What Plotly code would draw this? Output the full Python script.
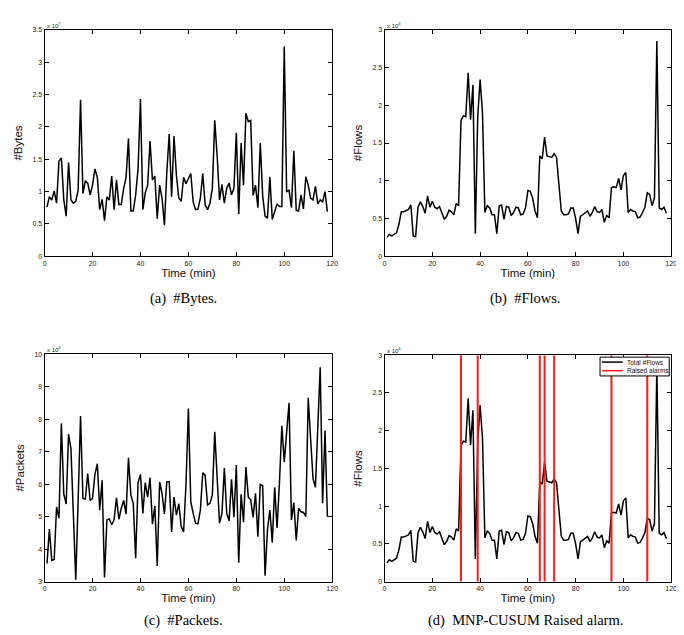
import plotly.graph_objects as go

minutes = list(range(1, 119))

bytes_e7 = [0.76, 0.92, 0.87, 1.01, 0.82, 1.47, 1.52, 0.88, 0.62, 1.45,
            0.87, 0.82, 0.85, 1.02, 2.42, 0.97, 1.16, 1.13, 0.95, 1.10,
            1.35, 1.22, 0.72, 0.88, 0.55, 0.92, 0.87, 1.24, 0.72, 1.18,
            0.80, 0.80, 1.05, 1.22, 1.82, 0.70, 0.70, 0.95, 1.35, 2.43,
            0.72, 0.98, 1.10, 1.78, 1.18, 1.24, 0.58, 1.10, 0.90, 0.48,
            1.30, 1.89, 0.92, 1.86, 1.25, 0.90, 0.85, 1.22, 1.12, 1.20,
            1.28, 0.84, 0.72, 0.73, 0.90, 1.28, 0.79, 0.72, 0.82, 1.05,
            2.10, 1.55, 0.87, 1.11, 0.82, 1.05, 1.13, 0.95, 1.05, 1.91,
            0.65, 1.75, 1.10, 2.21, 2.08, 2.10, 0.94, 1.10, 0.75, 1.75,
            0.93, 0.62, 0.59, 1.23, 0.57, 0.69, 0.81, 0.77, 0.77, 3.24,
            1.00, 1.02, 0.75, 1.63, 0.71, 0.70, 0.95, 0.73, 1.23, 1.10,
            0.90, 0.87, 1.08, 0.81, 0.87, 0.84, 1.00, 0.69]

flows_e4 = [0.25, 0.29, 0.27, 0.29, 0.31, 0.42, 0.59, 0.59, 0.60, 0.62,
            0.68, 0.27, 0.26, 0.65, 0.72, 0.66, 0.57, 0.80, 0.65, 0.73,
            0.65, 0.63, 0.66, 0.57, 0.49, 0.53, 0.61, 0.59, 0.55, 0.70,
            0.67, 1.80, 1.86, 1.85, 2.43, 1.81, 2.27, 0.30, 1.85, 2.34,
            1.90, 0.58, 0.67, 0.64, 0.55, 0.55, 0.30, 0.67, 0.68, 0.49,
            0.66, 0.65, 0.54, 0.58, 0.65, 0.64, 0.55, 0.56, 0.64, 0.87,
            0.86, 0.77, 0.60, 0.51, 1.33, 1.29, 1.58, 1.33, 1.32, 1.31,
            1.36, 1.31, 0.95, 0.60, 0.55, 0.55, 0.56, 0.64, 0.64, 0.50,
            0.30, 0.53, 0.55, 0.58, 0.60, 0.53, 0.58, 0.66, 0.59, 0.58,
            0.62, 0.45, 0.54, 0.51, 0.91, 0.92, 0.91, 1.03, 0.88, 1.07,
            1.11, 0.58, 0.62, 0.60, 0.59, 0.51, 0.52, 0.58, 0.65, 0.84,
            0.82, 0.67, 0.77, 2.85, 0.64, 0.62, 0.65, 0.57]

packets_e4 = [3.56, 4.62, 3.65, 3.68, 5.30, 4.95, 7.87, 5.70, 5.39, 7.54,
              7.09, 5.10, 3.06, 5.50, 8.10, 5.56, 5.54, 6.33, 5.50, 5.56,
              6.30, 6.63, 5.20, 6.12, 3.13, 4.90, 4.93, 4.75, 4.90, 5.58,
              4.92, 5.26, 5.50, 5.08, 6.81, 5.66, 5.40, 3.72, 6.05, 6.30,
              5.10, 6.05, 5.60, 6.20, 4.77, 5.33, 3.48, 6.07, 5.72, 5.08,
              6.07, 6.08, 4.53, 5.60, 5.05, 5.40, 4.70, 4.53, 6.00, 8.33,
              5.46, 5.10, 4.80, 4.78, 5.20, 6.35, 6.27, 5.36, 5.41, 5.67,
              7.61, 6.20, 4.80, 5.10, 6.50, 5.10, 4.87, 6.15, 4.98, 6.59,
              3.58, 5.69, 4.83, 6.53, 5.60, 5.52, 4.98, 5.72, 4.38, 5.99,
              5.95, 3.18, 4.60, 5.20, 4.20, 5.90, 4.65, 6.05, 7.80, 6.68,
              7.60, 8.50, 4.90, 5.43, 4.27, 5.26, 5.15, 5.13, 5.00, 8.66,
              7.40, 6.17, 5.90, 7.70, 9.60, 5.41, 7.65, 5.00]

alarms = [32, 39, 65, 67, 71, 95, 110]

x_ticks = [0, 20, 40, 60, 80, 100, 120]
captions = ["(a)  #Bytes.", "(b)  #Flows.", "(c)  #Packets.", "(d)  MNP-CUSUM Raised alarm."]
legend_labels = ["Total #Flows", "Raised alarms"]

W, H = 684, 635
SANS = "Liberation Sans, Arial, sans-serif"

def px_dom_x(a, b):
    return [a / W, b / W]

def px_dom_y(top, bottom):
    return [1 - bottom / H, 1 - top / H]

fig = go.Figure()

panels = [
    dict(x=px_dom_x(35, 326), y=px_dom_y(18, 247), yr=[0, 3.5], dt=0.5, ytitle="#Bytes", exp="7"),
    dict(x=px_dom_x(379, 669), y=px_dom_y(18, 247), yr=[0, 3], dt=0.5, ytitle="#Flows", exp="4"),
    dict(x=px_dom_x(35, 326), y=px_dom_y(346, 576), yr=[3, 10], dt=1, ytitle="#Packets", exp="4"),
    dict(x=px_dom_x(379, 669), y=px_dom_y(347, 576), yr=[0, 3], dt=0.5, ytitle="#Flows", exp="4"),
]

series = [bytes_e7, flows_e4, packets_e4, flows_e4]
tickfont = dict(family=SANS, size=7, color="#222")
titlefont = dict(family=SANS, size=11.5, color="#111")

layout = {}
annotations = []
shapes = []
for i, p in enumerate(panels):
    n = "" if i == 0 else str(i + 1)
    xa = "xaxis" + n
    ya = "yaxis" + n
    layout[xa] = dict(domain=p["x"], range=[0, 120], tickvals=x_ticks,
                      ticks="inside", ticklen=4, tickcolor="black",
                      showline=True, linecolor="black", linewidth=1, mirror="ticks",
                      showgrid=False, zeroline=False, tickfont=tickfont,
                      anchor="y" + n, fixedrange=True,
                      title=dict(text="Time (min)", font=titlefont, standoff=1))
    layout[ya] = dict(domain=p["y"], range=p["yr"], dtick=p["dt"],
                      ticks="inside", ticklen=4, tickcolor="black",
                      showline=True, linecolor="black", linewidth=1, mirror="ticks",
                      showgrid=False, zeroline=False, tickfont=tickfont,
                      anchor="x" + n, fixedrange=True,
                      title=dict(text=p["ytitle"], font=titlefont, standoff=7))
    fig.add_trace(go.Scatter(x=minutes, y=series[i], mode="lines",
                             line=dict(color="black", width=1.5),
                             name=legend_labels[0], showlegend=False,
                             xaxis="x" + n, yaxis="y" + n))
    annotations.append(dict(xref="paper", yref="paper", x=p["x"][0], y=p["y"][1],
                            xanchor="left", yanchor="bottom", showarrow=False,
                            text="x 10<sup>" + p["exp"] + "</sup>",
                            font=dict(family=SANS, size=6, color="#222"),
                            yshift=-1))

# Raised alarms on panel (d)
ax_, ay_ = [], []
for a in alarms:
    ax_ += [a, a, None]
    ay_ += [0, 3, None]
fig.add_trace(go.Scatter(x=ax_, y=ay_, mode="lines", line=dict(color="#ff1a1a", width=2),
                         name=legend_labels[1], showlegend=False, xaxis="x4", yaxis="y4"))

# compact MATLAB-style legend box in panel (d)
lx0, lx1, ly0, ly1 = 597, 667, 349, 368
shapes.append(dict(type="rect", xref="paper", yref="paper",
                   x0=lx0 / W, x1=lx1 / W, y0=1 - ly1 / H, y1=1 - ly0 / H,
                   line=dict(color="black", width=1), fillcolor="white", layer="above"))
for k, (lab, col) in enumerate(zip(legend_labels, ["black", "#ff1a1a"])):
    yy = 354 + k * 8.7
    shapes.append(dict(type="line", xref="paper", yref="paper",
                       x0=599 / W, x1=620 / W, y0=1 - yy / H, y1=1 - yy / H,
                       line=dict(color=col, width=1.5), layer="above"))
    annotations.append(dict(xref="paper", yref="paper", x=622 / W, y=1 - yy / H,
                            xanchor="left", yanchor="middle", showarrow=False,
                            text=lab, font=dict(family=SANS, size=6.5, color="#111")))

cap_pos = [(176, 290), (522, 290), (176, 615), (522, 615)]
for (cx, cy), c in zip(cap_pos, captions):
    annotations.append(dict(xref="paper", yref="paper", x=cx / W, y=1 - cy / H,
                            xanchor="center", yanchor="middle", showarrow=False,
                            text=c, font=dict(family="Liberation Serif, Times New Roman, serif",
                                              size=14.5, color="black")))

fig.update_layout(**layout)
fig.update_layout(
    width=W, height=H, margin=dict(l=0, r=0, t=0, b=0),
    paper_bgcolor="white", plot_bgcolor="white",
    annotations=annotations, shapes=shapes, showlegend=False,
)

fig.write_html("out.html")
